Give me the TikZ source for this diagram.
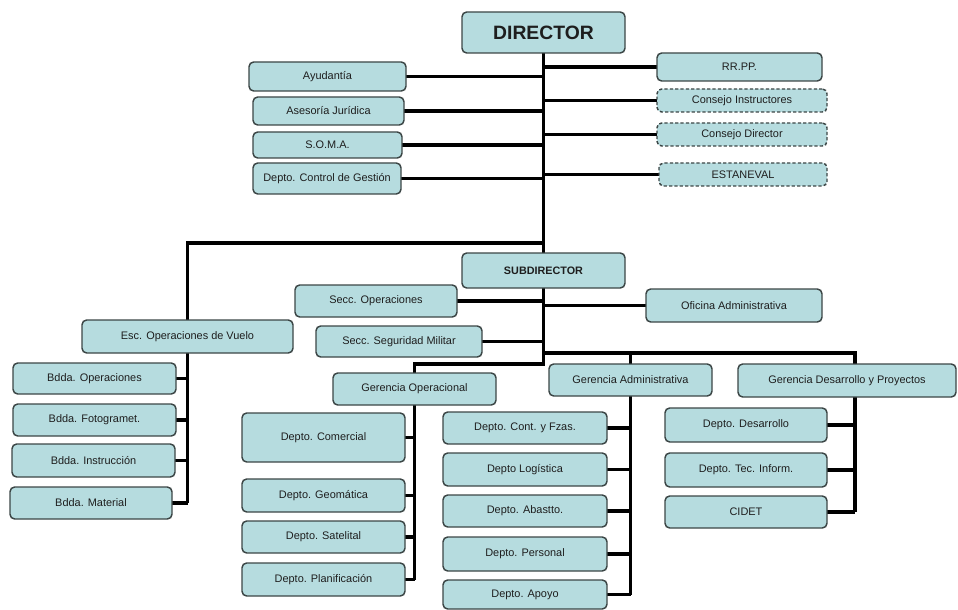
\documentclass[tikz,border=0pt]{standalone}
\usepackage{fontspec}
\setmainfont{Liberation Sans}
\usetikzlibrary{backgrounds}
\definecolor{boxfill}{HTML}{B6DCDF}
\definecolor{boxline}{HTML}{3C4646}
\definecolor{boxtext}{HTML}{1E1E1E}
\tikzset{
  box/.style={draw=boxline, fill=boxfill, line width=1.1pt, rounded corners=3.5pt,
    inner sep=0pt, outer sep=0pt, text=boxtext, align=center,
    font=\fontsize{8.2pt}{9.5pt}\selectfont},
  dashbox/.style={box, dash pattern=on 2.4pt off 1.6pt},
  bigbox/.style={box, font=\fontsize{14.5pt}{16pt}\selectfont\bfseries},
  subbox/.style={box, font=\fontsize{8.1pt}{9.5pt}\selectfont\bfseries},
  conn/.style={draw=black, line width=2.5pt, line join=miter}
}
\newcommand\obox[7][]{\node[box,#1,minimum width={(#5-#3)*0.75pt},minimum height={(#6-#4)*0.75pt}] (#2) at ({(#3+#5)/2},{(#4+#6)/2}) {#7};}
\begin{document}
\begin{tikzpicture}[x=0.75pt,y=-0.75pt]
\useasboundingbox (0,0) rectangle (958,610);
% top level
\obox[bigbox]{dir}{462}{12}{625}{53}{DIRECTOR}
\obox{ayud}{249}{62}{406}{91}{Ayudantía}
\obox{ases}{253}{97}{404}{125}{Asesoría Jurídica}
\obox{soma}{253}{132}{402}{158}{S.O.M.A.}
\obox{ctrl}{253}{163}{401}{194}{Depto. Control de Gestión}
\obox{rrpp}{657}{53}{822}{81}{RR.PP.}
\obox[dashbox]{cins}{657}{89}{827}{112}{Consejo Instructores}
\obox[dashbox]{cdir}{657}{123}{827}{146}{Consejo Director}
\obox[dashbox]{esta}{659}{163}{827}{186}{ESTANEVAL}
% subdirector level
\obox[subbox]{sub}{462}{253}{625}{288}{SUBDIRECTOR}
\obox{sop}{295}{285}{457}{317}{Secc. Operaciones}
\obox{ssm}{316}{326}{482}{357}{Secc. Seguridad Militar}
\obox{ofi}{646}{289}{822}{322}{Oficina Administrativa}
% escuadrilla
\obox{esc}{82}{320}{293}{353}{Esc. Operaciones de Vuelo}
\obox{bop}{13}{363}{176}{394}{Bdda. Operaciones}
\obox{bfo}{13}{404}{176}{436}{Bdda. Fotogramet.}
\obox{bin}{12}{444}{175}{477}{Bdda. Instrucción}
\obox{bma}{10}{487}{172}{519}{Bdda. Material}
% gerencias
\obox{gop}{333}{373}{496}{405}{Gerencia Operacional}
\obox{gadm}{549}{364}{712}{396}{Gerencia Administrativa}
\obox{gdp}{738}{364}{956}{397}{Gerencia Desarrollo y Proyectos}
% gerencia operacional
\obox{com}{242}{413}{405}{462}{Depto. Comercial}
\obox{geo}{242}{479}{405}{512}{Depto. Geomática}
\obox{sat}{242}{521}{405}{553}{Depto. Satelital}
\obox{pla}{242}{563}{405}{596}{Depto. Planificación}
% gerencia administrativa
\obox{cont}{443}{412}{607}{444}{Depto. Cont. y Fzas.}
\obox{log}{443}{453}{607}{486}{Depto Logística}
\obox{aba}{443}{495}{607}{527}{Depto. Abastto.}
\obox{per}{443}{537}{607}{571}{Depto. Personal}
\obox{apo}{443}{580}{607}{609}{Depto. Apoyo}
% gerencia desarrollo
\obox{des}{665}{408}{827}{442}{Depto. Desarrollo}
\obox{tec}{665}{453}{827}{487}{Depto. Tec. Inform.}
\obox{cid}{665}{496}{827}{528}{CIDET}
% junction coordinates
\coordinate (jl) at (543.5,243);
\coordinate (jr) at (543.5,353);
\coordinate (js) at (543.5,364);
\coordinate (jd) at (855,353);
% connectors (drawn behind boxes)
\begin{scope}[on background layer]
\draw[conn] (dir.south) -- (sub.north);
\foreach \n in {ayud,ases,soma,ctrl} \draw[conn] (\n.east) -- (\n.east -| dir.south);
\foreach \n in {rrpp,cins,cdir,esta} \draw[conn] (\n.west) -- (\n.west -| dir.south);
\draw[conn] (jl) -| (esc.north);
\draw[conn] (esc.south) -- (esc.south |- bma.east);
\foreach \n in {bop,bfo,bin,bma} \draw[conn] (\n.east) -- (\n.east -| esc.south);
\draw[conn] (sub.south) -- (js) -| (gop.north);
\foreach \n in {sop,ssm} \draw[conn] (\n.east) -- (\n.east -| sub.south);
\draw[conn] (ofi.west) -- (ofi.west -| sub.south);
\draw[conn] (jr) -- (jd) -- (jd |- gdp.north);
\draw[conn] (gadm.north |- jr) -- (gadm.north);
\draw[conn] (gop.south) -- (gop.south |- pla.east);
\foreach \n in {com,geo,sat,pla} \draw[conn] (\n.east) -- (\n.east -| gop.south);
\draw[conn] (gadm.south) -- (gadm.south |- apo.east);
\foreach \n in {cont,log,aba,per,apo} \draw[conn] (\n.east) -- (\n.east -| gadm.south);
\draw[conn] (jd |- gdp.south) -- (jd |- cid.east);
\foreach \n in {des,tec,cid} \draw[conn] (\n.east) -- (\n.east -| jd);
\end{scope}
\end{tikzpicture}
\end{document}
